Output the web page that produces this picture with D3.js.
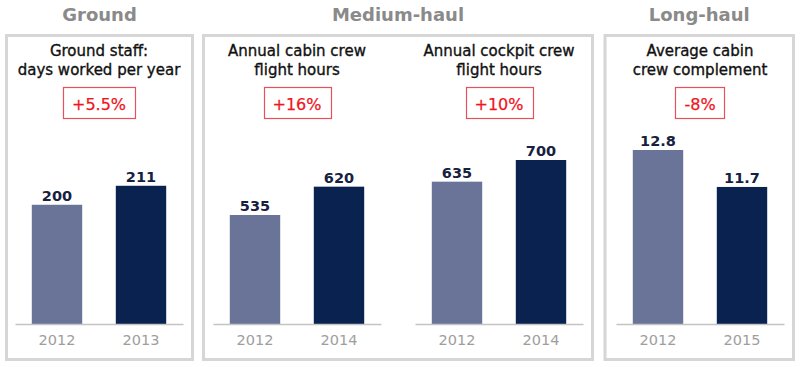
<!DOCTYPE html>
<html>
<head>
<meta charset="utf-8">
<script src="https://cdn.jsdelivr.net/npm/d3@7"></script>
<style>
  html, body { margin: 0; padding: 0; background: #fff; }
  svg { display: block; font-family: "DejaVu Sans", sans-serif; }
</style>
</head>
<body>
<svg id="chart" width="800" height="367"></svg>
<script>
// ---- data ----
const groupNames = ["Ground", "Medium-haul", "Long-haul"];
const chartGroup = [0, 1, 1, 2];
const chartTitles = [
  ["Ground staff:", "days worked per year"],
  ["Annual cabin crew", "flight hours"],
  ["Annual cockpit crew", "flight hours"],
  ["Average cabin", "crew complement"]
];
const changeLabels = ["+5.5%", "+16%", "+10%", "-8%"];
const years = [["2012", "2013"], ["2012", "2014"], ["2012", "2014"], ["2012", "2015"]];
const values = [[200, 211], [535, 620], [635, 700], [12.8, 11.7]];
const valueLabels = [["200", "211"], ["535", "620"], ["635", "700"], ["12.8", "11.7"]];

// ---- layout ----
const svg = d3.select("#chart");
const panelBoxes = [[6.5, 192.5], [203.5, 592.5], [605, 793.5]];
const chartLeft = [15, 213, 415, 616];
const chartW = 168;
const baseY = 324, topY = 150;
const yDomains = [[131, 231.7], [208, 730], [208, 730], [7.62, 12.8]];
const barColors = ["#6a7498", "#0a2250"];

// panel boxes and group headers
groupNames.forEach((g, i) => {
  const [x0, x1] = panelBoxes[i];
  svg.append("rect")
    .attr("x", x0).attr("y", 35.5)
    .attr("width", x1 - x0).attr("height", 324)
    .attr("fill", "none").attr("stroke", "#d6d6d6").attr("stroke-width", 3);
  svg.append("text")
    .attr("x", (x0 + x1) / 2).attr("y", 21)
    .attr("text-anchor", "middle")
    .attr("font-size", 18).attr("font-weight", "bold")
    .attr("fill", "#8a8a8a")
    .text(g);
});

values.forEach((vals, i) => {
  const g = svg.append("g").attr("transform", `translate(${chartLeft[i]},0)`);
  const cx = chartW / 2;
  const x = d3.scaleBand().domain(years[i]).range([0, chartW]).paddingInner(0.4).paddingOuter(0.2);
  const y = d3.scaleLinear().domain(yDomains[i]).range([baseY, topY]);

  // title
  chartTitles[i].forEach((t, j) => {
    g.append("text")
      .attr("x", cx).attr("y", 56 + j * 19)
      .attr("text-anchor", "middle")
      .attr("font-size", 15)
      .attr("fill", "#111")
      .attr("stroke", "#111").attr("stroke-width", 0.35)
      .text(t);
  });

  // change badge
  const ct = g.append("text")
    .attr("x", cx).attr("y", 109.5)
    .attr("text-anchor", "middle")
    .attr("font-size", 16)
    .attr("fill", "#f0141e")
    .attr("stroke", "#f0141e").attr("stroke-width", 0.25)
    .text(changeLabels[i]);
  const bb = ct.node().getBBox();
  g.insert("rect", "text:last-child")
    .attr("x", Math.round(bb.x - 9) + 0.5).attr("y", 87.5)
    .attr("width", Math.round(bb.width + 18)).attr("height", 31)
    .attr("fill", "#fff").attr("stroke", "#e8505a").attr("stroke-width", 1.2);
  ct.raise();

  // bars
  g.selectAll("rect.bar").data(vals).enter().append("rect")
    .attr("class", "bar")
    .attr("x", (d, k) => x(years[i][k]))
    .attr("width", x.bandwidth())
    .attr("y", d => y(d))
    .attr("height", d => baseY - y(d))
    .attr("fill", (d, k) => barColors[k]);

  // value labels
  g.selectAll("text.val").data(vals).enter().append("text")
    .attr("class", "val")
    .attr("x", (d, k) => x(years[i][k]) + x.bandwidth() / 2)
    .attr("y", d => y(d) - 4)
    .attr("text-anchor", "middle")
    .attr("font-size", 14.5).attr("font-weight", "bold")
    .attr("fill", "#16213f")
    .text((d, k) => valueLabels[i][k]);

  // x axis
  const ax = g.append("g").attr("transform", `translate(0,${baseY})`)
    .call(d3.axisBottom(x).tickSize(0).tickPadding(11));
  ax.select(".domain").attr("stroke", "#c4c4c4").attr("stroke-width", 1.5);
  ax.selectAll(".tick text")
    .attr("font-size", 14.5).attr("fill", "#9e9e9e")
    .attr("font-family", "DejaVu Sans, sans-serif");
});
</script>
</body>
</html>
